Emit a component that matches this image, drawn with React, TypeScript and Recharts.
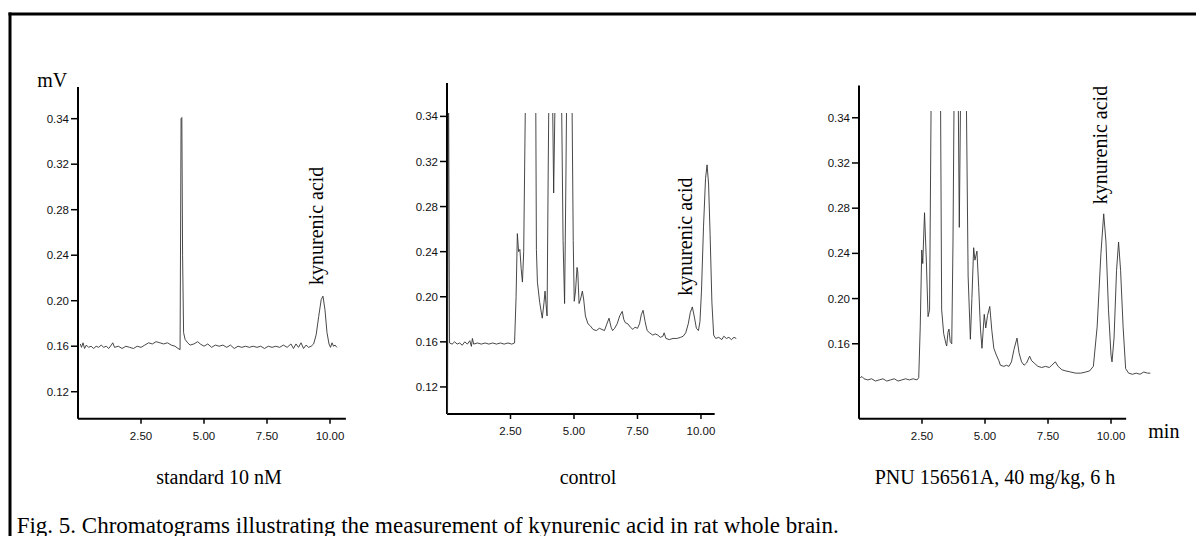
import React from "react";
import { LineChart, Line, XAxis, YAxis, ReferenceLine } from "recharts";

// retention time (min) and detector signal.
// signal is kept on the figure's own tick scale (the top tick is printed "0.34")

const standardTime = [
  0.09, 0.14, 0.2, 0.26, 0.33, 0.42, 0.52, 0.62, 0.72, 0.82, 0.92, 1.02, 1.12, 1.22, 1.32, 1.38, 1.45, 1.6,
  1.75, 1.9, 2.05, 2.2, 2.35, 2.5, 2.65, 2.8, 2.95, 3.1, 3.25, 3.4, 3.55, 3.7, 3.85, 3.97, 4.05, 4.09, 4.12,
  4.15, 4.19, 4.25, 4.35, 4.45, 4.6, 4.75, 4.85, 5.0, 5.15, 5.3, 5.45, 5.6, 5.75, 5.9, 6.05, 6.2, 6.35, 6.5,
  6.65, 6.8, 6.95, 7.1, 7.25, 7.4, 7.55, 7.7, 7.85, 8.0, 8.15, 8.3, 8.45, 8.55, 8.65, 8.75, 8.85, 8.95, 9.05,
  9.15, 9.25, 9.35, 9.45, 9.55, 9.65, 9.72, 9.8, 9.88, 9.96, 10.02, 10.08, 10.14, 10.2, 10.27,
];
const standardSignal = [
  0.162, 0.159, 0.163, 0.158, 0.161, 0.159, 0.16, 0.158, 0.16, 0.159, 0.161, 0.159, 0.16, 0.158, 0.161, 0.163,
  0.159, 0.16, 0.158, 0.16, 0.159, 0.158, 0.16, 0.159, 0.161, 0.163, 0.162, 0.164, 0.163, 0.162, 0.163, 0.161,
  0.16, 0.158, 0.157, 0.36, 0.361, 0.24, 0.172, 0.166, 0.163, 0.161, 0.162, 0.164, 0.162, 0.16, 0.162, 0.159,
  0.161, 0.16, 0.161, 0.159, 0.161, 0.158, 0.16, 0.159, 0.16, 0.159, 0.16, 0.159, 0.16, 0.158, 0.16, 0.159,
  0.16, 0.159, 0.161, 0.159, 0.162, 0.158, 0.162, 0.159, 0.163, 0.158, 0.161, 0.159, 0.16, 0.162, 0.17, 0.186,
  0.201, 0.204, 0.192, 0.172, 0.162, 0.159, 0.163, 0.16, 0.161, 0.159,
];

const controlTime = [
  0.02, 0.06, 0.1, 0.2, 0.3, 0.4, 0.5, 0.6, 0.7, 0.8, 0.9, 0.96, 1.0, 1.05, 1.2, 1.35, 1.5, 1.65, 1.8, 1.95,
  2.1, 2.25, 2.4, 2.55, 2.66, 2.72, 2.77, 2.82, 2.87, 2.92, 2.97, 3.02, 3.1, 3.3, 3.49, 3.52, 3.56, 3.65, 3.75,
  3.82, 3.86, 3.9, 3.94, 3.98, 4.02, 4.12, 4.2, 4.27, 4.4, 4.5, 4.57, 4.63, 4.68, 4.72, 4.85, 4.92, 4.97, 5.01,
  5.06, 5.12, 5.15, 5.2, 5.26, 5.33, 5.38, 5.45, 5.55, 5.65, 5.75, 5.88, 6.0, 6.1, 6.2, 6.28, 6.38, 6.46, 6.52,
  6.6, 6.7, 6.8, 6.9, 6.96, 7.02, 7.12, 7.22, 7.32, 7.4, 7.5, 7.58, 7.65, 7.72, 7.8, 7.88, 7.98, 8.1, 8.2, 8.3,
  8.4, 8.5, 8.55, 8.62, 8.75, 8.9, 9.05, 9.2, 9.3, 9.4, 9.5, 9.58, 9.66, 9.74, 9.82, 9.9, 9.96, 10.02, 10.1,
  10.18, 10.24, 10.3, 10.36, 10.43, 10.5, 10.58, 10.7, 10.82, 10.9, 11.0, 11.1, 11.2, 11.3, 11.39,
];
const controlSignal = [
  0.09, 0.4, 0.159, 0.158, 0.16, 0.158, 0.159, 0.157, 0.16, 0.158, 0.161, 0.156, 0.163, 0.158, 0.159, 0.158,
  0.159, 0.158, 0.159, 0.158, 0.159, 0.158, 0.159, 0.158, 0.159, 0.2, 0.256, 0.24, 0.242, 0.225, 0.213, 0.24,
  0.4, 0.55, 0.4, 0.242, 0.213, 0.195, 0.181, 0.195, 0.205, 0.193, 0.183, 0.3, 0.4, 0.45, 0.292, 0.4, 0.45, 0.4,
  0.25, 0.194, 0.3, 0.4, 0.45, 0.38, 0.25, 0.196, 0.205, 0.226, 0.222, 0.194, 0.198, 0.205, 0.198, 0.183, 0.176,
  0.174, 0.171, 0.17, 0.172, 0.171, 0.17, 0.175, 0.181, 0.173, 0.17, 0.172, 0.176, 0.183, 0.187, 0.18, 0.177,
  0.176, 0.173, 0.171, 0.173, 0.172, 0.176, 0.184, 0.188, 0.178, 0.17, 0.168, 0.166, 0.167, 0.166, 0.164, 0.165,
  0.168, 0.163, 0.162, 0.163, 0.163, 0.164, 0.165, 0.168, 0.176, 0.186, 0.191, 0.182, 0.172, 0.17, 0.178, 0.205,
  0.262, 0.305, 0.317, 0.3, 0.255, 0.195, 0.166, 0.163, 0.164, 0.162, 0.165, 0.163, 0.164, 0.162, 0.164, 0.163,
];

const pnuTime = [
  0.05, 0.12, 0.2, 0.35, 0.5, 0.65, 0.8, 0.95, 1.1, 1.25, 1.4, 1.55, 1.7, 1.85, 2.0, 2.15, 2.3, 2.37, 2.43,
  2.49, 2.53, 2.6, 2.67, 2.74, 2.8, 2.87, 3.0, 3.23, 3.28, 3.36, 3.45, 3.48, 3.53, 3.57, 3.62, 3.68, 3.73, 3.78,
  3.88, 3.93, 3.98, 4.04, 4.15, 4.25, 4.33, 4.42, 4.48, 4.55, 4.6, 4.68, 4.75, 4.82, 4.88, 4.97, 5.03, 5.1,
  5.19, 5.27, 5.35, 5.45, 5.55, 5.61, 5.75, 5.85, 5.95, 6.05, 6.15, 6.27, 6.35, 6.45, 6.55, 6.65, 6.77, 6.85,
  6.95, 7.1, 7.25, 7.4, 7.55, 7.65, 7.79, 7.9, 8.05, 8.2, 8.4, 8.6, 8.8, 9.0, 9.15, 9.3, 9.45, 9.6, 9.71, 9.8,
  9.9, 10.0, 10.04, 10.12, 10.22, 10.3, 10.38, 10.48, 10.58, 10.7, 10.85, 11.0, 11.15, 11.3, 11.45, 11.56,
];
const pnuSignal = [
  0.13, 0.131, 0.129, 0.128, 0.129, 0.127, 0.128, 0.129, 0.127, 0.128, 0.129, 0.127, 0.128, 0.129, 0.128, 0.129,
  0.128, 0.13, 0.175, 0.243, 0.231, 0.276, 0.235, 0.184, 0.19, 0.4, 0.5, 0.4, 0.19, 0.169, 0.16, 0.158, 0.17,
  0.173, 0.162, 0.16, 0.25, 0.4, 0.45, 0.4, 0.263, 0.4, 0.45, 0.4, 0.22, 0.164, 0.2, 0.245, 0.234, 0.242, 0.21,
  0.173, 0.156, 0.186, 0.174, 0.185, 0.193, 0.172, 0.156, 0.15, 0.145, 0.141, 0.14, 0.141, 0.14, 0.144, 0.155,
  0.165, 0.152, 0.144, 0.141, 0.143, 0.149, 0.145, 0.143, 0.14, 0.139, 0.14, 0.139, 0.141, 0.144, 0.14, 0.137,
  0.136, 0.135, 0.134, 0.134, 0.135, 0.136, 0.14, 0.175, 0.24, 0.275, 0.25, 0.19, 0.15, 0.144, 0.165, 0.225,
  0.25, 0.225, 0.175, 0.138, 0.134, 0.133, 0.134, 0.133, 0.135, 0.134, 0.134,
];

const timeTicks = [2.5, 5, 7.5, 10];
const timeTickLabels = ["2.50", "5.00", "7.50", "10.00"];
const mvTicks = [0.12, 0.16, 0.2, 0.24, 0.28, 0.32, 0.36];
const mvTickLabels = ["0.12", "0.16", "0.20", "0.24", "0.28", "0.32", "0.34"];

const panelTitles = ["standard 10 nM", "control", "PNU 156561A, 40 mg/kg, 6 h"];
const peakLabel = "kynurenic acid";
const caption = "Fig. 5. Chromatograms illustrating the measurement of kynurenic acid in rat whole brain.";

const toRows = (t: number[], mv: number[]) => t.map((x, i) => ({ t: x, mv: mv[i] }));

const serif = "'Liberation Serif', 'Times New Roman', serif";
const sans = "'Liberation Sans', Arial, sans-serif";

// where each plot sits on the page
const panels = [
  {
    rows: toRows(standardTime, standardSignal),
    yTicks: mvTicks,
    plotLeft: 77.7, plotTop: 112.6, plotWidth: 267.9, plotHeight: 305.7,
    xEnd: 10.63, axisEnd: 10.63, yMin: 0.0963, yClip: 0.365, yTop: 0.3878,
    titleX: 219, peakX: 323, peakY: 225.8,
  },
  {
    rows: toRows(controlTime, controlSignal),
    yTicks: mvTicks,
    plotLeft: 447.3, plotTop: 113.3, plotWidth: 290.8, plotHeight: 301,
    xEnd: 11.45, axisEnd: 10.54, yMin: 0.096, yClip: 0.363, yTop: 0.3896,
    titleX: 588, peakX: 691.5, peakY: 236.7,
  },
  {
    rows: toRows(pnuTime, pnuSignal),
    yTicks: mvTicks.slice(1),
    plotLeft: 858.7, plotTop: 110.5, plotWidth: 293.6, plotHeight: 307.8,
    xEnd: 11.65, axisEnd: 10.6, yMin: 0.0936, yClip: 0.366, yTop: 0.3886,
    titleX: 995, peakX: 1106.5, peakY: 145,
  },
];

const Y_W = 50;
const X_H = 34;
const M_TOP = 40;
const M_RIGHT = 6;

const mvLabel = (v: number) => {
  const i = mvTicks.findIndex((m) => Math.abs(m - v) < 1e-6);
  return i >= 0 ? mvTickLabels[i] : String(v);
};
const timeLabel = (v: number) => {
  const i = timeTicks.findIndex((m) => Math.abs(m - v) < 1e-6);
  return i >= 0 ? timeTickLabels[i] : String(v);
};

function Chromatogram({ p }: { p: (typeof panels)[number] }) {
  return (
    <div style={{ position: "absolute", left: p.plotLeft - Y_W, top: p.plotTop - M_TOP }}>
      <LineChart
        width={Y_W + p.plotWidth + M_RIGHT}
        height={M_TOP + p.plotHeight + X_H}
        data={p.rows}
        margin={{ top: M_TOP, right: M_RIGHT, bottom: 0, left: 0 }}
      >
        <XAxis
          type="number"
          dataKey="t"
          domain={[0, p.xEnd]}
          allowDataOverflow
          ticks={timeTicks}
          interval={0}
          tickFormatter={timeLabel}
          axisLine={false}
          tickSize={5}
          tickMargin={8}
          tickLine={{ stroke: "#000", strokeWidth: 1.5 }}
          tick={{ fontSize: 11.5, fontFamily: sans, fill: "#111" }}
          height={X_H}
        />
        <YAxis
          type="number"
          domain={[p.yMin, p.yClip]}
          allowDataOverflow
          ticks={p.yTicks}
          interval={0}
          tickFormatter={mvLabel}
          axisLine={false}
          tickSize={7}
          tickMargin={2}
          tickLine={{ stroke: "#000", strokeWidth: 1.5 }}
          tick={{ fontSize: 11.5, fontFamily: sans, fill: "#111" }}
          width={Y_W}
        />
        <ReferenceLine
          segment={[{ x: 0, y: p.yMin }, { x: p.axisEnd, y: p.yMin }]}
          ifOverflow="visible"
          stroke="#000"
          strokeWidth={2}
        />
        <ReferenceLine
          segment={[{ x: 0, y: p.yMin }, { x: 0, y: p.yTop }]}
          ifOverflow="visible"
          stroke="#000"
          strokeWidth={2}
        />
        <Line
          type="linear"
          dataKey="mv"
          stroke="#333"
          strokeWidth={0.9}
          dot={false}
          activeDot={false}
          isAnimationActive={false}
        />
      </LineChart>
    </div>
  );
}

export default function App() {
  return (
    <div
      style={{
        position: "absolute",
        left: 0,
        top: 0,
        width: 1196,
        height: 536,
        overflow: "hidden",
        background: "#fff",
      }}
    >
      <svg width={1196} height={536} style={{ position: "absolute", left: 0, top: 0 }}>
        <rect x={8.5} y={12.5} width={1190} height={3} fill="#000" />
        <rect x={8.5} y={12.5} width={3} height={530} fill="#000" />
        <text x={37.3} y={86.5} fontFamily={serif} fontSize={20} fill="#000">
          mV
        </text>
        <text x={1148.3} y={437.7} fontFamily={serif} fontSize={20} fill="#000">
          min
        </text>
        {panels.map((p, i) => (
          <text key={"t" + i} x={p.titleX} y={484} textAnchor="middle" fontFamily={serif} fontSize={20} fill="#000">
            {panelTitles[i]}
          </text>
        ))}
        {panels.map((p, i) => (
          <text
            key={"k" + i}
            transform={`translate(${p.peakX},${p.peakY}) rotate(-90)`}
            textAnchor="middle"
            fontFamily={serif}
            fontSize={20}
            fill="#000"
          >
            {peakLabel}
          </text>
        ))}
        <text x={16.7} y={532.5} fontFamily={serif} fontSize={23} fill="#000">
          {caption}
        </text>
      </svg>
      {panels.map((p, i) => (
        <Chromatogram key={i} p={p} />
      ))}
    </div>
  );
}
